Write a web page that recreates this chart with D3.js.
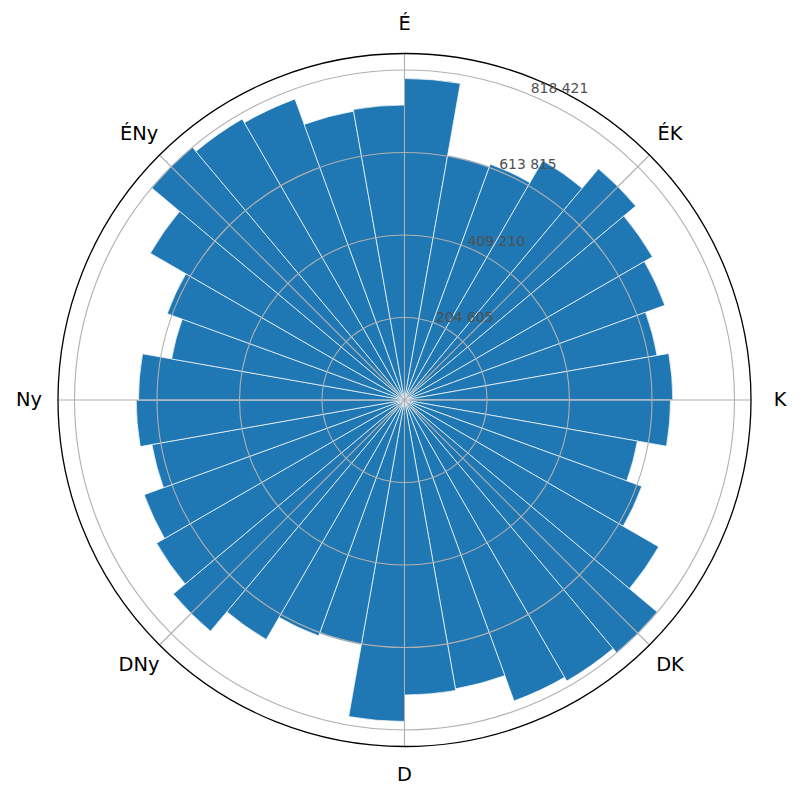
<!DOCTYPE html>
<html>
<head>
<meta charset="utf-8">
<script src="https://cdn.jsdelivr.net/npm/d3@7"></script>
<style>
  body { margin: 0; background: #fff; }
  svg text { font-family: "DejaVu Sans", sans-serif; }
</style>
</head>
<body>
<div id="chart"></div>
<script>
// compass labels and their bearings
var directions = ["É", "ÉK", "K", "DK", "D", "DNy", "Ny", "ÉNy"];
var directionAngles = [0, 45, 90, 135, 180, 225, 270, 315];

// 36 bins of 10 degrees, starting at north, clockwise
var binStarts = [0, 10, 20, 30, 40, 50, 60, 70, 80, 90, 100, 110, 120, 130, 140, 150, 160, 170,
  180, 190, 200, 210, 220, 230, 240, 250, 260, 270, 280, 290, 300, 310, 320, 330, 340, 350];
var counts = [
  797300, 616300, 622500, 685700, 748500, 710000, 687000, 636100, 665400,
  659700, 586500, 626200, 727900, 818421, 804800, 794300, 727400, 731600,
  797300, 616300, 622500, 685700, 748500, 710000, 687000, 636100, 665400,
  659700, 586500, 626200, 727900, 818421, 804800, 794300, 727400, 731600
];
var radialTicks = [204605, 409210, 613815, 818421];
var radialTickLabels = ["204 605", "409 210", "613 815", "818 421"];

var W = 802, H = 801;
var cx = 404.5, cy = 400, R = 346.5;
var binWidth = 10;

var svg = d3.select("#chart").append("svg")
  .attr("width", W)
  .attr("height", H);

var g = svg.append("g").attr("transform", "translate(" + cx + "," + cy + ")");

var r = d3.scaleLinear()
  .domain([0, d3.max(counts) * 1.05])
  .range([0, R]);

var rad = function(deg){ return deg * Math.PI / 180; };

// bars
var arc = d3.arc()
  .innerRadius(0)
  .outerRadius(function(d){ return r(d.value); })
  .startAngle(function(d){ return rad(d.start); })
  .endAngle(function(d){ return rad(d.start + binWidth); });

var bins = binStarts.map(function(s, i){ return {start: s, value: counts[i]}; });

g.append("g").attr("class", "bars")
  .selectAll("path").data(bins)
  .enter().append("path")
    .attr("d", arc)
    .attr("fill", "#1f77b4")
    .attr("stroke", "#ffffff")
    .attr("stroke-width", 0.7)
    .attr("stroke-linejoin", "miter");

// grid (drawn over the bars like matplotlib)
var grid = g.append("g").attr("class", "grid");
grid.selectAll("circle").data(radialTicks)
  .enter().append("circle")
    .attr("r", function(d){ return r(d); })
    .attr("fill", "none")
    .attr("stroke", "#b0b0b0")
    .attr("stroke-width", 1.1);

grid.selectAll("line").data(directionAngles)
  .enter().append("line")
    .attr("x1", 0).attr("y1", 0)
    .attr("x2", function(d){ return R * Math.sin(rad(d)); })
    .attr("y2", function(d){ return -R * Math.cos(rad(d)); })
    .attr("stroke", "#b0b0b0")
    .attr("stroke-width", 1.1);

// outer spine
g.append("circle")
  .attr("r", R)
  .attr("fill", "none")
  .attr("stroke", "#000")
  .attr("stroke-width", 1.3);

// radial tick labels at 22.5 degrees
var labAng = rad(22.5);
g.selectAll(".rlabel").data(radialTicks)
  .enter().append("text")
    .attr("class", "rlabel")
    .attr("x", function(d){ return r(d) * Math.sin(labAng); })
    .attr("y", function(d){ return -r(d) * Math.cos(labAng) - 2; })
    .attr("font-size", "13.9px")
    .attr("fill", "#505050")
    .text(function(d, i){ return radialTickLabels[i]; });

// compass labels
var labR = R + 29;
g.selectAll(".alabel").data(directions)
  .enter().append("text")
    .attr("class", "alabel")
    .attr("x", function(d, i){ return labR * Math.sin(rad(directionAngles[i])); })
    .attr("y", function(d, i){ return -labR * Math.cos(rad(directionAngles[i])); })
    .attr("dy", "0.3em")
    .attr("text-anchor", "middle")
    .attr("font-size", "19.4px")
    .attr("fill", "#000")
    .text(function(d){ return d; });
</script>
</body>
</html>
